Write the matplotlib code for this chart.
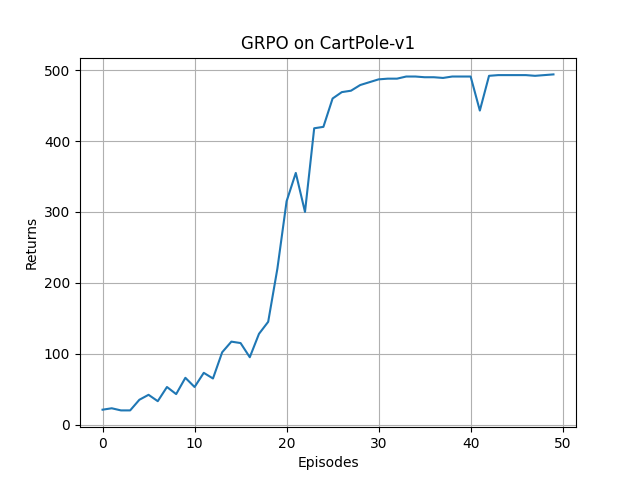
import matplotlib
matplotlib.use('Agg')
import matplotlib.pyplot as plt

episodes = list(range(50))
returns = [21, 23, 20, 20, 35, 42, 33, 53, 43, 66,
           53, 73, 65, 102, 117, 115, 95, 128, 145, 220,
           315, 355, 300, 418, 420, 460, 469, 471, 479, 483,
           487, 488, 488, 491, 491, 490, 490, 489, 491, 491,
           491, 443, 492, 493, 493, 493, 493, 492, 493, 494]

plt.figure(figsize=(6.4, 4.8), dpi=100)
plt.plot(episodes, returns)
plt.xlabel('Episodes')
plt.ylabel('Returns')
plt.title('GRPO on CartPole-v1')
plt.grid(True)
plt.savefig('out.png')
